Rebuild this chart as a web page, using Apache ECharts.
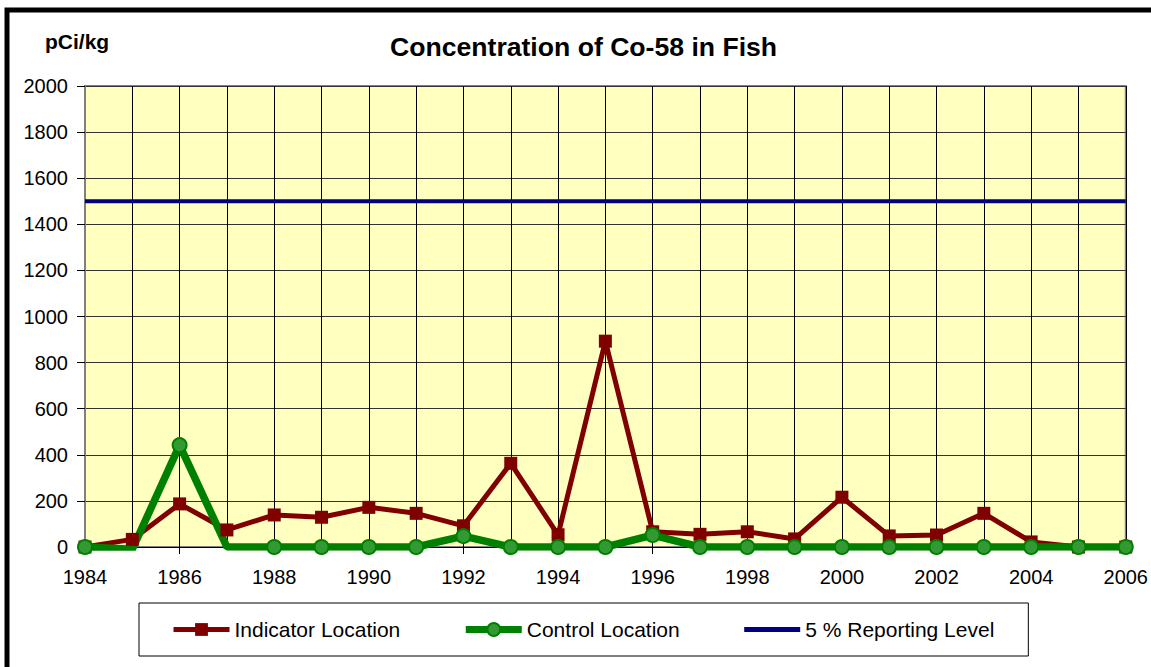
<!DOCTYPE html>
<html>
<head>
<meta charset="utf-8">
<script src="https://cdn.jsdelivr.net/npm/echarts@6/dist/echarts.min.js"></script>
<style>
html,body{margin:0;padding:0;background:#fff;}
#chart{width:1151px;height:667px;}
</style>
</head>
<body>
<div id="chart"></div>
<script>
var years = ['1984','1985','1986','1987','1988','1989','1990','1991','1992','1993','1994','1995','1996','1997','1998','1999','2000','2001','2002','2003','2004','2005','2006'];
var indicator = [0,33,187,74,139,129,172,146,92,363,53,893,66,55,66,35,216,48,52,146,22,0,0];
var control = [0,-10,442,0,0,0,0,0,47,0,0,0,52,0,0,0,0,0,0,0,0,0,0];
var controlNoMarker = ['1985','1987'];
var reporting = [1500,1500,1500,1500,1500,1500,1500,1500,1500,1500,1500,1500,1500,1500,1500,1500,1500,1500,1500,1500,1500,1500,1500];
var yTicks = [0,200,400,600,800,1000,1200,1400,1600,1800,2000];

var FONT = 'Liberation Sans, Arial, sans-serif';
var chart = echarts.init(document.getElementById('chart'), null, {renderer:'svg'});

var controlData = control.map(function(v,i){
  if (controlNoMarker.indexOf(years[i]) >= 0) return {value:v, symbol:'none'};
  return v;
});

chart.setOption({
  animation:false,
  backgroundColor:'#ffffff',
  title:[
    {text:'Concentration of Co-58 in Fish', left:390, top:33, padding:0,
     textStyle:{fontFamily:FONT, fontSize:26.6, fontWeight:'bold', color:'#000'}},
    {text:'pCi/kg', left:45, top:31, padding:0,
     textStyle:{fontFamily:FONT, fontSize:21, fontWeight:'bold', color:'#000'}}
  ],
  graphic:[
    {type:'rect', shape:{x:7, y:10, width:1300, height:800}, style:{fill:'none', stroke:'#000', lineWidth:5}, silent:true}
  ],
  legend:{
    left:139, top:603,
    padding:[16,34,16,32],
    borderColor:'#000', borderWidth:1,
    itemWidth:56, itemHeight:16, itemGap:62,
    textStyle:{fontFamily:FONT, fontSize:21, color:'#000'},
    data:[
      {name:'Indicator Location', lineStyle:{width:5}},
      {name:'Control Location', lineStyle:{width:7}},
      {name:'5 % Reporting Level', lineStyle:{width:5}, itemStyle:{opacity:0}}
    ]
  },
  grid:{
    left:85, right:20, top:86, bottom:120,
    show:true, backgroundColor:'#ffffc0', borderColor:'#808080', borderWidth:2
  },
  xAxis:{
    type:'category', data:years, boundaryGap:false,
    axisLine:{show:true, lineStyle:{color:'#000', width:1}},
    axisTick:{show:true, interval:1, length:7, lineStyle:{color:'#000'}},
    axisLabel:{interval:1, margin:20, fontFamily:FONT, fontSize:20, color:'#000'},
    splitLine:{show:true, interval:0, lineStyle:{color:'#000', width:1}}
  },
  yAxis:{
    type:'value', min:yTicks[0], max:yTicks[yTicks.length-1], interval:200,
    axisLine:{show:true, lineStyle:{color:'#808080', width:1}},
    axisTick:{show:true, length:8, lineStyle:{color:'#000'}},
    axisLabel:{margin:17, fontFamily:FONT, fontSize:20, color:'#000',
      formatter:function(v){ return String(v); }},
    splitLine:{show:true, lineStyle:{color:'#333', width:1}}
  },
  series:[
    {name:'Indicator Location', type:'line', data:indicator,
     symbol:'rect', symbolSize:13,
     lineStyle:{color:'#800000', width:5},
     itemStyle:{color:'#800000', borderColor:'#800000', borderWidth:0}},
    {name:'Control Location', type:'line', data:controlData,
     symbol:'circle', symbolSize:14,
     lineStyle:{color:'#008000', width:7.5},
     itemStyle:{color:'#339933', borderColor:'#008000', borderWidth:2}},
    {name:'5 % Reporting Level', type:'line', data:reporting,
     symbol:'none', showSymbol:false,
     lineStyle:{color:'#000080', width:4},
     itemStyle:{color:'#000080'}}
  ]
});
</script>
</body>
</html>
